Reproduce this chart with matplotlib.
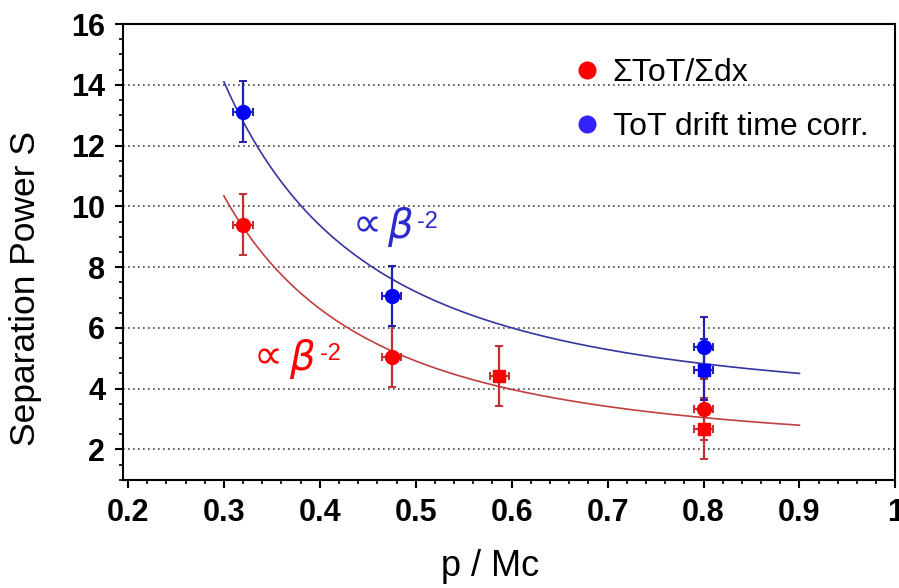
import numpy as np
import matplotlib
matplotlib.use('Agg')
import matplotlib.pyplot as plt
from matplotlib.ticker import MultipleLocator, FuncFormatter
from matplotlib.lines import Line2D

# measured points (p/Mc, S, error)
red_circ_x = [0.32, 0.475, 0.80]
red_circ_y = [9.40, 5.05, 3.32]
red_circ_e = [1.0, 1.0, 1.0]
red_sq_x = [0.587, 0.80]
red_sq_y = [4.42, 2.68]
red_sq_e = [1.0, 1.0]
blue_circ_x = [0.32, 0.475, 0.80]
blue_circ_y = [13.12, 7.05, 5.37]
blue_circ_e = [1.0, 1.0, 1.0]
blue_sq_x = [0.80]
blue_sq_y = [4.63]
blue_sq_e = [1.0]
xerr = 0.01

# fit S = a * beta^-2 + c
fit_red = (0.764, 1.09)
fit_blue = (0.972, 2.33)
fit_range = (0.3, 0.9)

plt.rcParams['font.family'] = ['Liberation Sans', 'DejaVu Sans']
fig = plt.figure(figsize=(8.99, 5.88), dpi=100)
ax = fig.add_axes([0.137, 0.184, 0.859, 0.775])

xx = np.linspace(fit_range[0], fit_range[1], 200)
binv = 1 + 1 / xx**2
ax.plot(xx, fit_red[0] * binv + fit_red[1], color='#c04040', lw=1.2, zorder=2)
ax.plot(xx, fit_blue[0] * binv + fit_blue[1], color='#3535a0', lw=1.2, zorder=2)

def pts(x, y, e, mk, fc, ec):
    ax.errorbar(x, y, yerr=e, xerr=xerr, fmt=mk, ms=10 if mk == 'o' else 9,
                mfc=fc, mec=fc, ecolor=ec, elinewidth=1.6, capsize=3,
                capthick=1.4, zorder=3)

pts(red_circ_x, red_circ_y, red_circ_e, 'o', '#ff0000', '#c03030')
pts(red_sq_x, red_sq_y, red_sq_e, 's', '#ff0000', '#c03030')
pts(blue_circ_x, blue_circ_y, blue_circ_e, 'o', '#0000ff', '#2020b0')
pts(blue_sq_x, blue_sq_y, blue_sq_e, 's', '#0000ff', '#2020b0')

ax.set_xlim(0.195, 1.0)
ax.set_ylim(1.0, 16)
ax.xaxis.set_major_locator(MultipleLocator(0.1))
ax.xaxis.set_minor_locator(MultipleLocator(0.02))
ax.yaxis.set_major_locator(MultipleLocator(2))
ax.yaxis.set_minor_locator(MultipleLocator(0.5))
ax.xaxis.set_major_formatter(FuncFormatter(lambda v, p: '1' if abs(v - 1) < 1e-6 else f'{v:.1f}'))
ax.yaxis.set_major_formatter(FuncFormatter(lambda v, p: f'{v:.0f}'))
ax.tick_params(which='major', direction='out', length=6, width=1.5, labelsize=22, pad=7)
ax.tick_params(which='minor', direction='out', length=3, width=1.2)
for lab in ax.get_xticklabels() + ax.get_yticklabels():
    lab.set_fontweight('bold')
for s in ax.spines.values():
    s.set_linewidth(1.5)

for g in [2, 4, 6, 8, 10, 12, 14]:
    ax.axhline(g, color='#444444', ls=(0, (1, 2)), lw=1.2, zorder=1)

ax.set_xlabel('p / Mc', fontsize=26)
ax.xaxis.set_label_coords(0.475, -0.152)
ax.set_ylabel('Separation Power S', fontsize=25.5)
ax.yaxis.set_label_coords(-0.105, 0.42)

# "proportional to beta^-2" labels
sym = ['DejaVu Sans']
for (x0, xb, xs, yb, ys, c) in [(0.434, 0.470, 0.501, 9.0, 9.3, '#2a2ad0'),
                                (0.331, 0.368, 0.400, 4.68, 4.95, '#ff0000')]:
    ax.text(x0, yb, '\u221d', color=c, fontsize=29, style='italic', family=sym, va='baseline')
    ax.text(xb, yb - 0.05, '\u03b2', color=c, fontsize=29, style='italic', family=sym, va='baseline')
    ax.text(xs, ys, '-2', color=c, fontsize=17, va='baseline')

handles = [Line2D([], [], ls='', marker='o', ms=12, color='#ff0000'),
           Line2D([], [], ls='', marker='o', ms=12, color='#3322ff')]
ax.legend(handles, ['\u03a3ToT/\u03a3dx', 'ToT drift time corr.'], loc='upper left',
          bbox_to_anchor=(0.58, 0.925), frameon=False, fontsize=23,
          handlelength=1.0, handletextpad=0.3, borderpad=0, borderaxespad=0,
          labelspacing=0.75)

fig.savefig('out.png', dpi=100)
